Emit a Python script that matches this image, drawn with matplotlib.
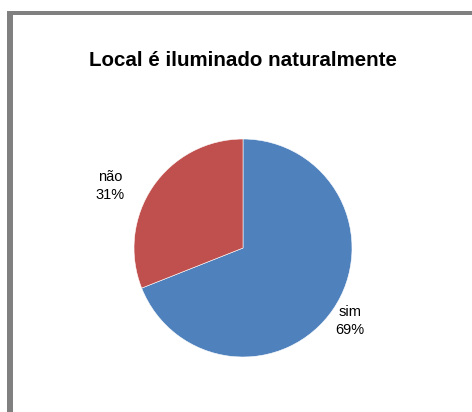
import matplotlib
matplotlib.use("Agg")
from matplotlib import pyplot as plt
from matplotlib.patches import Rectangle

labels = ["sim", "não"]
values = [69, 31]
colors = ["#4F81BD", "#C0504D"]
title = "Local é iluminado naturalmente"

W, H = 472, 412
fig = plt.figure(figsize=(W / 100, H / 100), dpi=100)
fig.patch.set_facecolor("white")

# grey frame (only top and left edges are visible in the crop)
fig.add_artist(Rectangle((7 / W, 0), 6 / W, (H - 11) / H, transform=fig.transFigure,
                         facecolor="#808080", edgecolor="none"))
fig.add_artist(Rectangle((7 / W, (H - 15) / H), (W - 7) / W, 4 / H, transform=fig.transFigure,
                         facecolor="#808080", edgecolor="none"))

# pie axes: center ~(243, 248) px, radius ~109 px
cx, cy, r = 243, 248, 109
ax = fig.add_axes([(cx - r) / W, (H - cy - r) / H, 2 * r / W, 2 * r / H])
wedges, _ = ax.pie(values, colors=colors, startangle=90, counterclock=False,
                   radius=1, wedgeprops=dict(edgecolor="white", linewidth=0.4))
ax.set_xlim(-1, 1)
ax.set_ylim(-1, 1)
ax.axis("off")

font = ["Liberation Sans", "DejaVu Sans"]
fig.text(243 / W, 1 - 60 / H, title, ha="center", va="center",
         fontsize=14.8, fontweight="bold", family=font)

label_pos = {"não": (110, 186), "sim": (350, 321)}
for lab, val in zip(labels, values):
    x, y = label_pos[lab]
    fig.text(x / W, 1 - y / H, f"{lab}\n{val}%", ha="center", va="center",
             fontsize=10.5, family=font, linespacing=1.4)

fig.savefig("out.png", dpi=100)
